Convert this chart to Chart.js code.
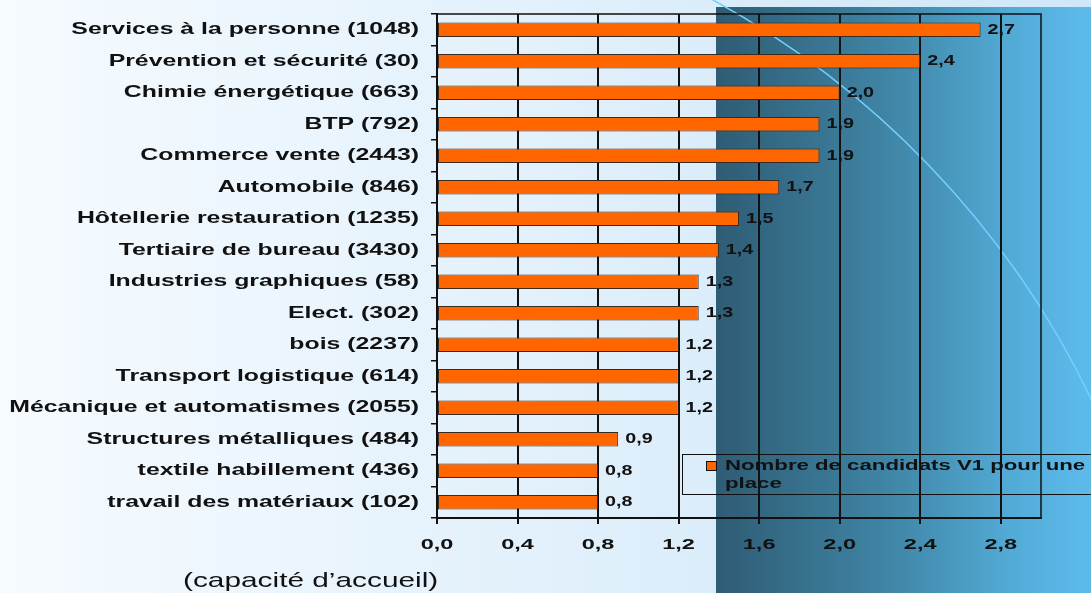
<!DOCTYPE html>
<html lang="fr">
<head>
<meta charset="utf-8">
<script src="https://cdn.jsdelivr.net/npm/chart.js@4/dist/chart.umd.min.js"></script>
<style>
  html, body { margin: 0; padding: 0; }
  body { width: 1091px; height: 593px; overflow: hidden; position: relative; }
  #wrap { position: absolute; left: 0; top: 0; width: 1091px; height: 593px; }
  #caption {
    position: absolute; left: 183px; top: 568px;
    font: 21px "Liberation Sans", Arial, sans-serif; color: #111;
    white-space: nowrap;
    transform: scaleX(1.42); transform-origin: 0 0;
  }
</style>
</head>
<body>
<div id="wrap"><canvas id="c" width="1091" height="593"></canvas></div>
<div id="caption">(capacité d’accueil)</div>
<script>
// Filières (capacité d'accueil entre parenthèses)
const categories = [
  "Services à la personne (1048)",
  "Prévention et sécurité (30)",
  "Chimie énergétique (663)",
  "BTP (792)",
  "Commerce vente (2443)",
  "Automobile (846)",
  "Hôtellerie restauration (1235)",
  "Tertiaire de bureau (3430)",
  "Industries graphiques (58)",
  "Elect. (302)",
  "bois (2237)",
  "Transport logistique (614)",
  "Mécanique et automatismes (2055)",
  "Structures métalliques (484)",
  "textile habillement (436)",
  "travail des matériaux (102)"
];
// Nombre de candidats en premier vœu pour une place
const candidatsParPlace = [2.7, 2.4, 2.0, 1.9, 1.9, 1.7, 1.5, 1.4, 1.3, 1.3, 1.2, 1.2, 1.2, 0.9, 0.8, 0.8];
const seriesLabel = "Nombre de candidats V1 pour une place";
const legendLines = ["Nombre de candidats V1 pour une", "place"];
const xTicks = [0, 0.4, 0.8, 1.2, 1.6, 2.0, 2.4, 2.8];

const FONT = '"Liberation Sans", Arial, sans-serif';
const fmt = v => v.toFixed(1).replace('.', ',');

// Wide lettering: horizontal stretch per font size
const STRETCH = { '17': 1.46, '14': 1.68, '14.5': 1.36, '15': 1.48 };
function stretchText(ctx) {
  if (ctx.__wide) return;
  ctx.__wide = true;
  const orig = ctx.fillText;
  ctx.fillText = function (text, x, y) {
    const m = /([\d.]+)px/.exec(this.font);
    const sx = (m && STRETCH[m[1]]) || 1;
    this.save();
    this.translate(x, y);
    this.scale(sx, 1);
    orig.call(this, text, 0, 0);
    this.restore();
  };
}

// Page background: pale left panel, dark-to-light blue right panel, thin arc
const backdrop = {
  id: 'backdrop',
  beforeDraw(chart) {
    const ctx = chart.ctx;
    stretchText(ctx);
    const W = chart.width, H = chart.height;
    ctx.save();
    let g = ctx.createLinearGradient(0, 0, 716, 0);
    g.addColorStop(0, '#f6fbff');
    g.addColorStop(1, '#dbedfa');
    ctx.fillStyle = g;
    ctx.fillRect(0, 0, W, H);
    g = ctx.createLinearGradient(716, 0, W, 0);
    g.addColorStop(0, '#d9ecf9');
    g.addColorStop(1, '#cfe8f8');
    ctx.fillStyle = g;
    ctx.fillRect(716, 0, W - 716, 7);
    g = ctx.createLinearGradient(716, 0, W, 0);
    g.addColorStop(0, '#2f5c74');
    g.addColorStop(0.45, '#3f84a4');
    g.addColorStop(0.8, '#53acd8');
    g.addColorStop(1, '#5dbbec');
    ctx.fillStyle = g;
    ctx.fillRect(716, 7, W - 716, H - 7);
    ctx.beginPath();
    ctx.arc(280, 789, 900, -1.15, -0.38);
    ctx.strokeStyle = '#73d0ff';
    ctx.lineWidth = 1.5;
    ctx.stroke();
    ctx.restore();
  }
};

// Plot frame, value labels and boxed legend
const overlay = {
  id: 'overlay',
  afterDatasetsDraw(chart) {
    const ctx = chart.ctx;
    const a = chart.chartArea;
    ctx.save();
    ctx.strokeStyle = '#111';
    ctx.lineWidth = 1.5;
    ctx.beginPath();
    ctx.moveTo(a.left, a.top);
    ctx.lineTo(a.right, a.top);
    ctx.lineTo(a.right, a.bottom);
    ctx.stroke();

    const meta = chart.getDatasetMeta(0);
    ctx.fillStyle = '#111';
    ctx.font = 'bold 14.5px ' + FONT;
    ctx.textBaseline = 'middle';
    ctx.textAlign = 'left';
    meta.data.forEach((bar, i) => {
      ctx.fillText(fmt(candidatsParPlace[i]), bar.x + 7, bar.y);
    });

    // legend
    ctx.lineWidth = 1;
    ctx.strokeStyle = '#111';
    ctx.strokeRect(682.5, 454.5, 420, 40);
    ctx.fillStyle = '#ff6600';
    ctx.fillRect(706, 461, 11, 10);
    ctx.strokeRect(706.5, 461.5, 10, 9);
    ctx.fillStyle = '#111';
    ctx.font = 'bold 15px ' + FONT;
    ctx.fillText(legendLines[0], 725, 466);
    ctx.fillText(legendLines[1], 725, 484);
    ctx.restore();
  }
};

new Chart(document.getElementById('c'), {
  type: 'bar',
  data: {
    labels: categories,
    datasets: [{
      label: seriesLabel,
      data: candidatsParPlace,
      backgroundColor: '#ff6600',
      borderColor: '#3a2a20',
      borderWidth: 1,
      borderSkipped: false,
      categoryPercentage: 1,
      barPercentage: 0.46
    }]
  },
  options: {
    indexAxis: 'y',
    responsive: false,
    animation: false,
    devicePixelRatio: 1,
    layout: { padding: { left: 0, right: 50, top: 14, bottom: 0 } },
    plugins: { legend: { display: false }, tooltip: { enabled: false } },
    scales: {
      x: {
        type: 'linear',
        min: 0,
        max: 3.0,
        afterBuildTicks(scale) { scale.ticks = xTicks.map(v => ({ value: v })); },
        afterFit(scale) { scale.height = 75; scale.paddingLeft = 0; scale.paddingRight = 0; },
        grid: { color: '#111', lineWidth: 2, tickLength: 6, drawTicks: true },
        border: { color: '#111', width: 2 },
        ticks: {
          color: '#111',
          font: { family: FONT, size: 14, weight: 'bold' },
          padding: 13,
          maxRotation: 0,
          callback: v => fmt(v)
        }
      },
      y: {
        afterFit(scale) { scale.width = 437; scale.paddingTop = 0; scale.paddingBottom = 0; },
        grid: { offset: true, drawOnChartArea: false, color: '#111', tickLength: 6, lineWidth: 1.5 },
        border: { color: '#111', width: 2 },
        ticks: {
          color: '#111',
          font: { family: FONT, size: 17, weight: 'bold' },
          padding: 12
        }
      }
    }
  },
  plugins: [backdrop, overlay]
});
</script>
</body>
</html>
